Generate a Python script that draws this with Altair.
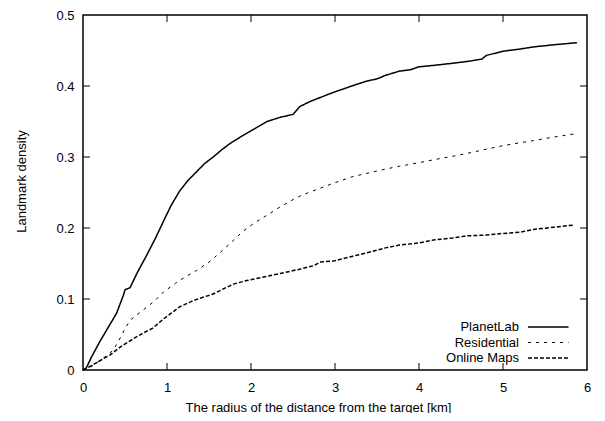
import altair as alt
import pandas as pd

FONT = "Liberation Sans"

series_names = ["PlanetLab", "Residential", "Online Maps"]

planetlab_x = [0, 0.04, 0.1, 0.2, 0.32, 0.4, 0.48, 0.5, 0.56, 0.65, 0.76, 0.86, 0.96, 1.05, 1.15, 1.25,
               1.35, 1.45, 1.55, 1.65, 1.75, 1.9, 2.03, 2.19, 2.35, 2.5, 2.58, 2.7, 2.85, 2.98, 3.2,
               3.38, 3.5, 3.6, 3.77, 3.9, 4.0, 4.17, 4.4, 4.6, 4.75, 4.8, 5.0, 5.2, 5.36, 5.6, 5.88]
planetlab_y = [0, 0.003, 0.018, 0.040, 0.064, 0.080, 0.105, 0.113, 0.116, 0.138, 0.162, 0.185, 0.210,
               0.232, 0.252, 0.267, 0.279, 0.291, 0.300, 0.310, 0.319, 0.330, 0.339, 0.350, 0.356,
               0.360, 0.371, 0.378, 0.385, 0.391, 0.400, 0.407, 0.410, 0.415, 0.421, 0.423, 0.427,
               0.429, 0.432, 0.435, 0.438, 0.443, 0.449, 0.452, 0.455, 0.458, 0.461]

residential_x = [0, 0.1, 0.2, 0.3, 0.36, 0.42, 0.5, 0.56, 0.7, 0.85, 0.96, 1.1, 1.2, 1.35, 1.5, 1.6,
                 1.75, 1.9, 2.05, 2.19, 2.35, 2.5, 2.6, 2.8, 2.98, 3.2, 3.38, 3.6, 3.77, 4.0, 4.17,
                 4.4, 4.57, 4.8, 5.0, 5.2, 5.36, 5.6, 5.88]
residential_y = [0, 0.005, 0.013, 0.022, 0.028, 0.040, 0.058, 0.070, 0.083, 0.097, 0.110, 0.122,
                 0.130, 0.140, 0.152, 0.162, 0.178, 0.195, 0.208, 0.218, 0.230, 0.240, 0.246, 0.255,
                 0.263, 0.272, 0.277, 0.283, 0.287, 0.292, 0.296, 0.301, 0.305, 0.311, 0.316, 0.320,
                 0.323, 0.328, 0.333]

maps_x = [0, 0.1, 0.2, 0.32, 0.45, 0.6, 0.7, 0.83, 0.96, 1.05, 1.15, 1.3, 1.39, 1.55, 1.65, 1.79,
          1.95, 2.19, 2.35, 2.58, 2.75, 2.82, 3.0, 3.2, 3.38, 3.6, 3.77, 4.0, 4.17, 4.4, 4.57, 4.8,
          4.96, 5.2, 5.36, 5.6, 5.83]
maps_y = [0, 0.006, 0.013, 0.021, 0.033, 0.044, 0.051, 0.059, 0.072, 0.080, 0.089, 0.097, 0.101,
          0.107, 0.113, 0.121, 0.126, 0.132, 0.136, 0.142, 0.147, 0.152, 0.154, 0.160, 0.165, 0.172,
          0.176, 0.179, 0.183, 0.186, 0.189, 0.190, 0.192, 0.194, 0.198, 0.201, 0.204]

x_ticks = [0, 1, 2, 3, 4, 5, 6]
y_ticks = [0, 0.1, 0.2, 0.3, 0.4, 0.5]
x_inner_ticks = [1, 2, 3, 4, 5]
y_inner_ticks = [0.1, 0.2, 0.3, 0.4]

dash_styles = [[1, 0], [3, 5], [4, 2]]
line_widths = [1.5, 1.0, 1.5]

rows = []
for name, xs, ys in [("PlanetLab", planetlab_x, planetlab_y),
                     ("Residential", residential_x, residential_y),
                     ("Online Maps", maps_x, maps_y)]:
    for i, (a, b) in enumerate(zip(xs, ys)):
        rows.append({"series": name, "x": a, "y": b, "order": i})
df = pd.DataFrame(rows)

W, H = 504, 355
TOP = 7
TK = 7

xscale = alt.Scale(domain=[0, 6], nice=False, zero=False)
yscale = alt.Scale(domain=[0, 0.5], nice=False, zero=False)

lines = alt.Chart(df).mark_line(color="black", strokeCap="butt").encode(
    x=alt.X("x:Q", scale=xscale,
            axis=alt.Axis(values=x_ticks, format="d", labelFlush=False,
                          title="The radius of the distance from the target [km]",
                          labelPadding=11, titleY=31, titleX=235, titleAlign="center",
                          titleBaseline="top")),
    y=alt.Y("y:Q", scale=yscale,
            axis=alt.Axis(values=y_ticks, format="~g", labelFlush=False, title="Landmark density",
                          labelPadding=9, titleX=-58, titleY=166, titleAlign="center",
                          titleBaseline="alphabetic", titleAngle=270)),
    strokeDash=alt.StrokeDash("series:N",
                              scale=alt.Scale(domain=series_names, range=dash_styles),
                              legend=alt.Legend(title=None)),
    strokeWidth=alt.StrokeWidth("series:N",
                                scale=alt.Scale(type="ordinal", domain=series_names,
                                                range=line_widths),
                                legend=None),
    order="order:Q",
    detail="series:N",
)

xt = pd.DataFrame({"v": x_inner_ticks})
yt = pd.DataFrame({"v": y_inner_ticks})

xt_bottom = alt.Chart(xt).mark_rule(color="black", strokeWidth=1).encode(
    x=alt.X("v:Q", scale=xscale), y=alt.value(H), y2=alt.value(H - TK))
xt_top = alt.Chart(xt).mark_rule(color="black", strokeWidth=1).encode(
    x=alt.X("v:Q", scale=xscale), y=alt.value(0), y2=alt.value(TK))
yt_left = alt.Chart(yt).mark_rule(color="black", strokeWidth=1).encode(
    y=alt.Y("v:Q", scale=yscale), x=alt.value(0), x2=alt.value(TK))
yt_right = alt.Chart(yt).mark_rule(color="black", strokeWidth=1).encode(
    y=alt.Y("v:Q", scale=yscale), x=alt.value(W), x2=alt.value(W - TK))

chart = alt.layer(xt_bottom, xt_top, yt_left, yt_right, lines).properties(
    width=W, height=H,
    autosize=alt.AutoSizeParams(type="none"),
    padding={"left": 75, "top": TOP, "right": 10, "bottom": 43},
).configure_view(
    stroke="black", strokeWidth=1.5
).configure_axis(
    domain=False, ticks=False, grid=False,
    labelFont=FONT, labelFontSize=13, labelColor="black",
    titleFont=FONT, titleFontSize=13, titleColor="black", titleFontWeight="normal",
).configure_legend(
    orient="none", legendX=456.75, legendY=303.5, padding=0,
    symbolType="M-2.7,0H2.7", symbolSize=225, symbolStrokeColor="black", symbolStrokeWidth=1.5,
    labelAlign="right", labelOffset={"expr": "-37.75"}, labelFont=FONT, labelFontSize=13,
    labelColor="black", rowPadding=0, labelLimit=300,
)

chart.save("out.html", embed_options={"renderer": "svg", "actions": False})
